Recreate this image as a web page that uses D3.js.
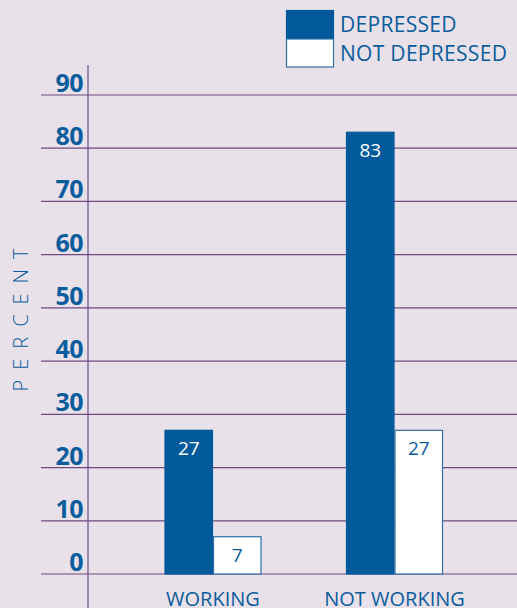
<!DOCTYPE html>
<html>
<head>
<meta charset="utf-8">
<script src="https://cdn.jsdelivr.net/npm/d3@7"></script>
<style>
  html, body { margin: 0; padding: 0; background: #e8e1e9; }
  svg { display: block; font-family: "Open Sans", "Noto Sans", sans-serif; }
</style>
</head>
<body>
<svg id="chart" width="517" height="608"></svg>
<script>
// chart data
var groups = ["WORKING", "NOT WORKING"];
var seriesNames = ["DEPRESSED", "NOT DEPRESSED"];
var depressed = [27, 83];
var notDepressed = [7, 27];
var yTicks = [0, 10, 20, 30, 40, 50, 60, 70, 80, 90];

var blue = "#02599b";
var textBlue = "#0b5c9c";
var gridCol = "#6e4a80";

var svg = d3.select("#chart");
var W = 517, H = 608;

// scales
var y = d3.scaleLinear().domain([0, 90]).range([574, 95]);
var x0 = d3.scalePoint().domain(groups).range([213, 394.5]);
var x1 = d3.scaleBand().domain(seriesNames).range([-48.5, 48.5]);

// gridlines + tick labels
var grid = svg.append("g");
grid.selectAll("line")
  .data(yTicks)
  .enter().append("line")
  .attr("x1", 41).attr("x2", W)
  .attr("y1", d => y(d)).attr("y2", d => y(d))
  .attr("stroke", gridCol).attr("stroke-width", 1.2);

grid.selectAll("text")
  .data(yTicks)
  .enter().append("text")
  .attr("x", 83).attr("y", d => y(d) - 3)
  .attr("text-anchor", "end")
  .attr("fill", textBlue)
  .attr("font-size", 25).attr("font-weight", "bold")
  .attr("letter-spacing", "-0.5px")
  .text(d => d);

// vertical axis line
svg.append("line")
  .attr("x1", 88).attr("x2", 88).attr("y1", 65).attr("y2", H)
  .attr("stroke", gridCol).attr("stroke-width", 1.2);

// y title
svg.append("text")
  .attr("transform", "translate(28,315) rotate(-90)")
  .attr("text-anchor", "middle")
  .attr("fill", textBlue)
  .attr("font-size", 20).attr("font-weight", 300)
  .attr("letter-spacing", "10px")
  .text("PERCENT");

// bars
var rows = groups.map((g, i) => ({ group: g, vals: [
  { name: seriesNames[0], v: depressed[i] },
  { name: seriesNames[1], v: notDepressed[i] }
]}));

var gg = svg.selectAll(".grp")
  .data(rows)
  .enter().append("g")
  .attr("transform", d => "translate(" + x0(d.group) + ",0)");

gg.selectAll("rect")
  .data(d => d.vals)
  .enter().append("rect")
  .attr("x", d => x1(d.name) + 0.5)
  .attr("width", x1.bandwidth() - 1)
  .attr("y", d => y(d.v))
  .attr("height", d => y(0) - y(d.v))
  .attr("fill", d => d.name === seriesNames[0] ? blue : "#ffffff")
  .attr("stroke", d => d.name === seriesNames[0] ? blue : "#2f6ea6")
  .attr("stroke-width", 1.2);

gg.selectAll("text")
  .data(d => d.vals)
  .enter().append("text")
  .attr("x", d => x1(d.name) + x1.bandwidth() / 2)
  .attr("y", d => y(d.v) + 25)
  .attr("text-anchor", "middle")
  .attr("font-size", 19)
  .attr("fill", d => d.name === seriesNames[0] ? "#ffffff" : textBlue)
  .text(d => d.v);

// group labels
gg.append("text")
  .attr("x", 0)
  .attr("y", 606)
  .attr("text-anchor", "middle")
  .attr("font-size", 20)
  .attr("fill", textBlue)
  .text(d => d.group);

// legend
var leg = svg.append("g");
seriesNames.forEach(function(n, i) {
  leg.append("rect")
    .attr("x", 286.5).attr("y", 10.5 + i * 28.5)
    .attr("width", 47).attr("height", 28)
    .attr("fill", i === 0 ? blue : "#ffffff")
    .attr("stroke", i === 0 ? blue : "#2f6ea6")
    .attr("stroke-width", 1.2);
  leg.append("text")
    .attr("x", 340).attr("y", 32 + i * 29)
    .attr("font-size", 21)
    .attr("letter-spacing", "0.3px")
    .attr("fill", textBlue)
    .text(n);
});
</script>
</body>
</html>
